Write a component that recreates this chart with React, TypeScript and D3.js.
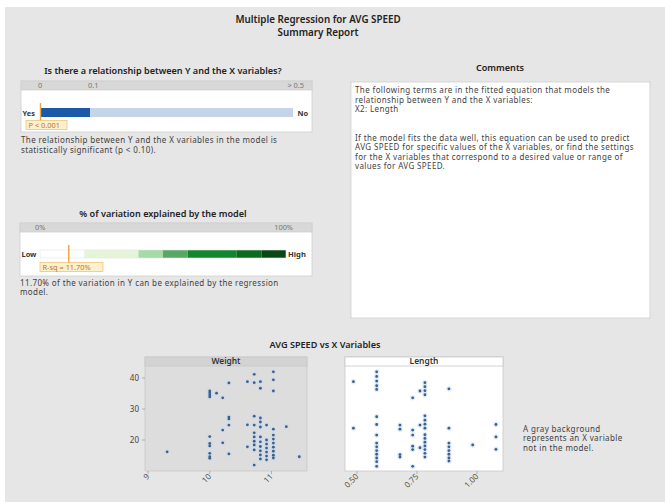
import React from "react";
import * as d3 from "d3";

const W = 665;
const H = 502;
const FONT = "'Noto Sans', 'Open Sans', sans-serif";

// Report text
const reportTitle = ["Multiple Regression for AVG SPEED", "Summary Report"];
const pTitle = "Is there a relationship between Y and the X variables?";
const pTickLabels = ["0", "0.1", "> 0.5"];
const pTickValues = [0, 0.1, 0.5];
const pValue = 0.001;
const pLabel = "P < 0.001";
const pText = [
  "The relationship between Y and the X variables in the model is",
  "statistically significant (p < 0.10).",
];
const rTitle = "% of variation explained by the model";
const rTickLabels = ["0%", "100%"];
const rSq = 11.7;
const rLabel = "R-sq = 11.70%";
const rBreaks = [0, 18, 40, 50, 60, 80, 90, 100];
const rColors = ["#ffffff", "#e6f4da", "#a6dba8", "#58a865", "#12852f", "#096a20", "#0a4716"];
const rText = [
  "11.70% of the variation in Y can be explained by the regression",
  "model.",
];
const commentLines = [
  "The following terms are in the fitted equation that models the",
  "relationship between Y and the X variables:",
  "X2: Length",
  "",
  "",
  "If the model fits the data well, this equation can be used to predict",
  "AVG SPEED for specific values of the X variables, or find the settings",
  "for the X variables that correspond to a desired value or range of",
  "values for AVG SPEED.",
];
const scatterTitle = "AVG SPEED vs X Variables";
const noteLines = ["A gray background", "represents an X variable", "not in the model."];

// Scatter data: [x value, AVG SPEED]
const weightSpeed: [number, number][] = [
  [9.31, 16.2],
  [10.0, 35.8], [10.0, 35.2], [10.0, 34.5], [10.0, 33.9],
  [10.0, 21.1], [10.0, 18.9], [10.0, 18.1], [10.0, 15.7], [10.0, 14.6], [10.0, 14.1],
  [10.11, 35.1],
  [10.21, 33.6], [10.21, 23.2], [10.21, 19.1],
  [10.31, 38.4], [10.31, 27.4], [10.31, 26.8], [10.31, 24.8], [10.31, 15.5],
  [10.61, 38.8], [10.61, 24.9], [10.61, 17.8],
  [10.72, 41.2], [10.72, 38.5], [10.72, 27.7], [10.72, 24.8], [10.72, 22.3],
  [10.72, 21.0], [10.72, 19.6], [10.72, 18.4], [10.72, 16.8], [10.72, 11.9],
  [10.82, 38.8], [10.82, 36.7], [10.82, 27.1], [10.82, 25.8], [10.82, 24.2],
  [10.82, 21.0], [10.82, 19.4], [10.82, 17.9], [10.82, 16.5], [10.82, 15.2], [10.82, 13.9],
  [10.92, 24.8], [10.92, 20.0], [10.92, 18.7], [10.92, 17.4], [10.92, 16.1],
  [10.92, 14.8], [10.92, 13.6],
  [11.03, 42.0], [11.03, 39.4], [11.03, 35.8], [11.03, 23.5], [11.03, 21.6],
  [11.03, 20.3], [11.03, 19.0], [11.03, 17.7], [11.03, 16.4], [11.03, 15.1], [11.03, 14.2],
  [11.24, 24.3],
  [11.45, 14.6],
];
const lengthSpeed: [number, number][] = [
  [0.485, 38.8], [0.485, 23.8],
  [0.582, 42.0], [0.582, 40.5], [0.582, 39.0], [0.582, 37.5], [0.582, 36.3],
  [0.582, 27.5], [0.582, 25.0], [0.582, 21.6], [0.582, 19.0], [0.582, 17.8],
  [0.582, 16.6], [0.582, 15.4], [0.582, 14.2], [0.582, 13.0], [0.582, 11.5],
  [0.679, 24.8], [0.679, 23.5], [0.679, 15.3], [0.679, 14.5],
  [0.732, 33.6], [0.732, 23.2], [0.732, 21.6], [0.732, 18.0], [0.732, 16.9], [0.732, 11.5],
  [0.7625, 35.8], [0.7625, 24.8], [0.7625, 17.5],
  [0.783, 38.5], [0.783, 37.2], [0.783, 35.9], [0.783, 34.6],
  [0.783, 27.8], [0.783, 26.4], [0.783, 25.1], [0.783, 23.8],
  [0.783, 21.7], [0.783, 20.5], [0.783, 19.3], [0.783, 18.1], [0.783, 16.9],
  [0.783, 15.7], [0.783, 14.5],
  [0.883, 36.5], [0.883, 23.8], [0.883, 19.0], [0.883, 17.8], [0.883, 16.6],
  [0.883, 15.4], [0.883, 14.2], [0.883, 13.2],
  [0.982, 18.4],
  [1.079, 25.0], [1.079, 21.0], [1.079, 17.0],
];
const speedTicks = [20, 30, 40];
const weightTicks = [9, 10, 11];
const lengthTicks = [0.5, 0.75, 1.0];

type PanelProps = {
  x0: number;
  x1: number;
  label: string;
  data: [number, number][];
  xScale: d3.ScaleLinear<number, number>;
  ticks: number[];
  fmt: (v: number) => string;
  inModel: boolean;
  showY: boolean;
};

const PTOP = 357;
const PHEAD = 366;
const PBOT = 471;
const yScale = d3.scaleLinear().domain([20, 40]).range([440, 378]);

function Panel({ x0, x1, label, data, xScale, ticks, fmt, inModel, showY }: PanelProps) {
  return (
    <g>
      <rect x={x0} y={PTOP} width={x1 - x0} height={PBOT - PTOP}
        fill={inModel ? "#ffffff" : "#dddddd"} stroke="#c9c9c9" strokeWidth={0.8} />
      <rect x={x0} y={PTOP} width={x1 - x0} height={PHEAD - PTOP}
        fill={inModel ? "#ffffff" : "#d3d3d3"} stroke="#c9c9c9" strokeWidth={0.8} />
      <text x={(x0 + x1) / 2} y={PHEAD - 1.8} textAnchor="middle" fontSize={8.4}
        fontWeight={600} fill="#333">{label}</text>
      {data.map(([vx, vy], i) => (
        <circle key={"h" + i} cx={xScale(vx)} cy={yScale(vy)} r={2.7} fill="#c3daf2" opacity={0.5} />
      ))}
      {data.map(([vx, vy], i) => (
        <circle key={"d" + i} cx={xScale(vx)} cy={yScale(vy)} r={1.4} fill="#3d5f8a" />
      ))}
      {ticks.map((t) => (
        <g key={"x" + t}>
          <line x1={xScale(t)} x2={xScale(t)} y1={PBOT} y2={PBOT + 3} stroke="#999" strokeWidth={0.7} />
          <text transform={`translate(${xScale(t) + 2},${PBOT + 6}) rotate(-45)`}
            textAnchor="end" fontSize={8} fill="#555">{fmt(t)}</text>
        </g>
      ))}
      {showY && speedTicks.map((t) => (
        <g key={"y" + t}>
          <line x1={x0 - 3} x2={x0} y1={yScale(t)} y2={yScale(t)} stroke="#999" strokeWidth={0.7} />
          <text x={x0 - 6} y={yScale(t) + 3} textAnchor="end" fontSize={8} fill="#444">{t}</text>
        </g>
      ))}
    </g>
  );
}

export default function App() {
  // p-value gauge: piecewise scale, 0..0.1 stretched, then up to 0.5
  const pScale = d3.scaleLinear().domain(pTickValues).range([40, 90, 293]);
  const rScale = d3.scaleLinear().domain([0, 100]).range([40, 286]);
  const weightX = d3.scaleLinear().domain([9, 11]).range([148, 271.5]);
  const lengthX = d3.scaleLinear().domain([0.5, 1.0]).range([357, 477]);

  const body = { fontSize: 8, letterSpacing: 0.38, fill: "#3f3f3f" };
  const head = { fontSize: 9.1, fontWeight: 600, fill: "#222" };
  const LINE = 9.5;

  return (
    <svg width={W} height={H} style={{ position: "absolute", left: 0, top: 0 }}
      fontFamily={FONT}>
      <rect x={0} y={0} width={W} height={H} fill="#ffffff" />
      <rect x={5} y={7} width={W - 5} height={H - 7} fill="#e6e6e6" />

      {/* report title */}
      <text x={318} y={23} textAnchor="middle" fontSize={9.8} fontWeight={600} fill="#222">{reportTitle[0]}</text>
      <text x={318} y={35.5} textAnchor="middle" fontSize={9.8} fontWeight={600} fill="#222">{reportTitle[1]}</text>

      {/* p-value section */}
      <text x={163} y={73.5} textAnchor="middle" {...head}>{pTitle}</text>
      <rect x={21} y={81} width={291} height={51} fill="#ffffff" stroke="#cfcfcf" strokeWidth={0.8} />
      <rect x={21} y={81} width={291} height={9} fill="#d8d8d8" stroke="#cfcfcf" strokeWidth={0.8} />
      {pTickValues.map((v, i) => (
        <text key={v} x={pScale(v) - (i === 2 ? -11 : 2)} y={88.3} textAnchor={i === 2 ? "end" : "start"}
          fontSize={7.4} fill="#777">{pTickLabels[i]}</text>
      ))}
      <rect x={pScale(0)} y={108} width={pScale(0.1) - pScale(0)} height={9} fill="#1b5aa6" />
      <rect x={pScale(0.1)} y={108} width={pScale(0.5) - pScale(0.1)} height={9} fill="#c4d5ea" />
      <text x={22.5} y={115.8} fontSize={7.4} fontWeight={700} fill="#333">Yes</text>
      <text x={297.5} y={115.8} fontSize={7.4} fontWeight={700} fill="#333">No</text>
      <line x1={pScale(pValue)} x2={pScale(pValue)} y1={103} y2={120} stroke="#eea43a" strokeWidth={1.4} />
      <rect x={26} y={120.5} width={41} height={9} fill="#fdf0cc" stroke="#f0bd6a" strokeWidth={0.7} />
      <text x={28.5} y={127.6} fontSize={7.4} fill="#b8782a">{pLabel}</text>
      {pText.map((t, i) => (
        <text key={i} x={21} y={143.3 + i * LINE} {...body}>{t}</text>
      ))}

      {/* R-squared section */}
      <text x={163} y={216.5} textAnchor="middle" {...head}>{rTitle}</text>
      <rect x={20} y={223} width={292} height={53} fill="#ffffff" stroke="#cfcfcf" strokeWidth={0.8} />
      <rect x={20} y={223} width={292} height={9} fill="#d8d8d8" stroke="#cfcfcf" strokeWidth={0.8} />
      <text x={rScale(0) - 5} y={230.3} fontSize={7.4} fill="#777">{rTickLabels[0]}</text>
      <text x={rScale(100) + 7} y={230.3} textAnchor="end" fontSize={7.4} fill="#777">{rTickLabels[1]}</text>
      {rColors.map((c, i) => (
        <rect key={i} x={rScale(rBreaks[i])} y={250} width={rScale(rBreaks[i + 1]) - rScale(rBreaks[i])}
          height={8} fill={c} />
      ))}
      <rect x={rScale(0)} y={250} width={rScale(100) - rScale(0)} height={8} fill="none" stroke="#e4e4e4" strokeWidth={0.6} />
      <text x={21.5} y={257.3} fontSize={7.4} fontWeight={700} fill="#333">Low</text>
      <text x={288} y={257.3} fontSize={7.6} fontWeight={700} fill="#333">High</text>
      <line x1={rScale(rSq)} x2={rScale(rSq)} y1={245} y2={263} stroke="#eea43a" strokeWidth={1.4} />
      <rect x={40} y={262.5} width={63} height={9} fill="#fdf0cc" stroke="#f0bd6a" strokeWidth={0.7} />
      <text x={42.5} y={269.6} fontSize={7.4} fill="#b8782a">{rLabel}</text>
      {rText.map((t, i) => (
        <text key={i} x={20} y={285.5 + i * LINE} {...body}>{t}</text>
      ))}

      {/* comments */}
      <text x={500} y={71} textAnchor="middle" {...head}>Comments</text>
      <rect x={351} y={82} width={299} height={236} fill="#ffffff" stroke="#cfcfcf" strokeWidth={0.8} />
      {commentLines.map((t, i) => (
        <text key={i} x={355} y={93 + i * LINE} {...body}>{t}</text>
      ))}

      {/* scatter panels */}
      <text x={325} y={348} textAnchor="middle" {...head}>{scatterTitle}</text>
      <Panel x0={145} x1={307} label="Weight" data={weightSpeed} xScale={weightX}
        ticks={weightTicks} fmt={(v) => String(v)} inModel={false} showY={true} />
      <Panel x0={345} x1={503} label="Length" data={lengthSpeed} xScale={lengthX}
        ticks={lengthTicks} fmt={(v) => v.toFixed(2)} inModel={true} showY={false} />
      {noteLines.map((t, i) => (
        <text key={i} x={523} y={431.5 + i * LINE} {...body}>{t}</text>
      ))}
    </svg>
  );
}
